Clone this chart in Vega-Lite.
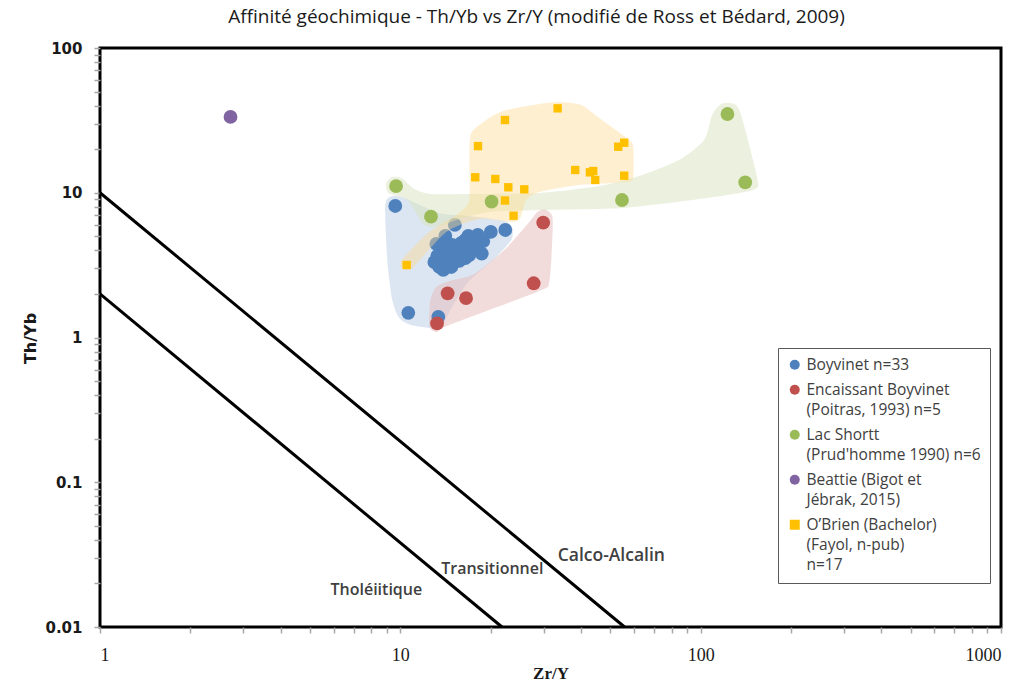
{
  "$schema": "https://vega.github.io/schema/vega-lite/v6.json",
  "width": 901,
  "height": 579,
  "autosize": {"type": "none"},
  "padding": {"left": 100, "top": 48, "right": 12, "bottom": 57},
  "background": "white",
  "title": {
    "text": "Affinité géochimique - Th/Yb vs Zr/Y (modifié de Ross et Bédard, 2009)",
    "font": "Open Sans",
    "fontSize": 19,
    "fontWeight": "normal",
    "color": "#1a1a1a",
    "anchor": "middle",
    "offset": 14,
    "dx": -14
  },
  "config": {
    "view": {"stroke": "black", "strokeWidth": 3},
    "axis": {"grid": false, "domain": false},
    "style": {"guide-label": {"lineHeight": 20}}
  },
  "datasets": {
    "pts": [
      {"s": "Boyvinet", "x": 9.62, "y": 8.10},
      {"s": "Boyvinet", "x": 10.63, "y": 1.48},
      {"s": "Boyvinet", "x": 13.38, "y": 1.39},
      {"s": "Boyvinet", "x": 15.19, "y": 5.99},
      {"s": "Boyvinet", "x": 14.12, "y": 5.03},
      {"s": "Boyvinet", "x": 22.36, "y": 5.53},
      {"s": "Boyvinet", "x": 20.01, "y": 5.36},
      {"s": "Boyvinet", "x": 18.11, "y": 5.11},
      {"s": "Boyvinet", "x": 13.18, "y": 4.43},
      {"s": "Boyvinet", "x": 16.46, "y": 4.72},
      {"s": "Boyvinet", "x": 14.89, "y": 4.36},
      {"s": "Boyvinet", "x": 17.63, "y": 4.36},
      {"s": "Boyvinet", "x": 18.67, "y": 3.80},
      {"s": "Boyvinet", "x": 16.09, "y": 4.02},
      {"s": "Boyvinet", "x": 13.80, "y": 3.90},
      {"s": "Boyvinet", "x": 12.98, "y": 3.32},
      {"s": "Boyvinet", "x": 14.67, "y": 3.54},
      {"s": "Boyvinet", "x": 13.48, "y": 3.07},
      {"s": "Boyvinet", "x": 14.78, "y": 3.07},
      {"s": "Boyvinet", "x": 16.97, "y": 3.71},
      {"s": "Boyvinet", "x": 15.72, "y": 3.38},
      {"s": "Boyvinet", "x": 14.23, "y": 3.27},
      {"s": "Boyvinet", "x": 14.56, "y": 3.96},
      {"s": "Boyvinet", "x": 15.96, "y": 4.50},
      {"s": "Boyvinet", "x": 17.23, "y": 4.02},
      {"s": "Boyvinet", "x": 14.01, "y": 4.43},
      {"s": "Boyvinet", "x": 15.36, "y": 3.78},
      {"s": "Boyvinet", "x": 13.28, "y": 3.66},
      {"s": "Boyvinet", "x": 16.46, "y": 3.54},
      {"s": "Boyvinet", "x": 13.90, "y": 2.93},
      {"s": "Boyvinet", "x": 18.89, "y": 4.64},
      {"s": "Boyvinet", "x": 16.84, "y": 5.03},
      {"s": "Boyvinet", "x": 15.13, "y": 3.32},
      {"s": "Encaissant", "x": 29.9, "y": 6.21},
      {"s": "Encaissant", "x": 27.8, "y": 2.37},
      {"s": "Encaissant", "x": 16.55, "y": 1.87},
      {"s": "Encaissant", "x": 14.37, "y": 2.02},
      {"s": "Encaissant", "x": 13.25, "y": 1.25},
      {"s": "LacShortt", "x": 9.68, "y": 11.13},
      {"s": "LacShortt", "x": 12.65, "y": 6.83},
      {"s": "LacShortt", "x": 20.13, "y": 8.68},
      {"s": "LacShortt", "x": 54.7, "y": 8.91},
      {"s": "LacShortt", "x": 122.8, "y": 34.99},
      {"s": "LacShortt", "x": 140.7, "y": 11.81},
      {"s": "Beattie", "x": 2.72, "y": 33.4},
      {"s": "OBrien", "x": 33.4, "y": 38.3},
      {"s": "OBrien", "x": 22.31, "y": 31.8},
      {"s": "OBrien", "x": 18.14, "y": 21.0},
      {"s": "OBrien", "x": 17.76, "y": 12.79},
      {"s": "OBrien", "x": 20.71, "y": 12.45},
      {"s": "OBrien", "x": 22.88, "y": 10.91},
      {"s": "OBrien", "x": 25.86, "y": 10.56},
      {"s": "OBrien", "x": 22.31, "y": 8.84},
      {"s": "OBrien", "x": 23.82, "y": 6.94},
      {"s": "OBrien", "x": 38.22, "y": 14.36},
      {"s": "OBrien", "x": 42.79, "y": 13.84},
      {"s": "OBrien", "x": 43.88, "y": 14.13},
      {"s": "OBrien", "x": 44.56, "y": 12.25},
      {"s": "OBrien", "x": 53.15, "y": 20.80},
      {"s": "OBrien", "x": 55.65, "y": 22.17},
      {"s": "OBrien", "x": 55.65, "y": 13.12},
      {"s": "OBrien", "x": 10.50, "y": 3.17}
    ],
    "hull": [
      {"g": "blue", "i": 0, "x": 8.91, "y": 8.23},
      {"g": "blue", "i": 1, "x": 9.05, "y": 3.43},
      {"g": "blue", "i": 2, "x": 9.40, "y": 1.816},
      {"g": "blue", "i": 3, "x": 9.92, "y": 1.364},
      {"g": "blue", "i": 4, "x": 10.88, "y": 1.220},
      {"g": "blue", "i": 5, "x": 13.49, "y": 1.163},
      {"g": "blue", "i": 6, "x": 14.56, "y": 1.500},
      {"g": "blue", "i": 7, "x": 16.71, "y": 2.379},
      {"g": "blue", "i": 8, "x": 20.55, "y": 3.49},
      {"g": "blue", "i": 9, "x": 23.41, "y": 4.72},
      {"g": "blue", "i": 10, "x": 23.59, "y": 5.71},
      {"g": "blue", "i": 11, "x": 22.19, "y": 6.38},
      {"g": "blue", "i": 12, "x": 16.97, "y": 6.91},
      {"g": "blue", "i": 13, "x": 13.49, "y": 7.25},
      {"g": "blue", "i": 14, "x": 10.31, "y": 9.20},
      {"g": "blue", "i": 15, "x": 9.40, "y": 9.49},
      {"g": "red", "i": 0, "x": 28.36, "y": 7.25},
      {"g": "red", "i": 1, "x": 30.15, "y": 7.72},
      {"g": "red", "i": 2, "x": 32.05, "y": 6.91},
      {"g": "red", "i": 3, "x": 32.05, "y": 4.72},
      {"g": "red", "i": 4, "x": 31.32, "y": 2.418},
      {"g": "red", "i": 5, "x": 29.01, "y": 2.096},
      {"g": "red", "i": 6, "x": 14.56, "y": 1.220},
      {"g": "red", "i": 7, "x": 13.18, "y": 1.091},
      {"g": "red", "i": 8, "x": 12.49, "y": 1.201},
      {"g": "red", "i": 9, "x": 12.59, "y": 1.816},
      {"g": "red", "i": 10, "x": 13.18, "y": 2.234},
      {"g": "red", "i": 11, "x": 14.56, "y": 2.457},
      {"g": "red", "i": 12, "x": 17.63, "y": 2.746},
      {"g": "red", "i": 13, "x": 22.19, "y": 4.02},
      {"g": "red", "i": 14, "x": 26.88, "y": 6.28},
      {"g": "green", "i": 0, "x": 8.98, "y": 11.68},
      {"g": "green", "i": 1, "x": 9.40, "y": 12.85},
      {"g": "green", "i": 2, "x": 10.08, "y": 12.65},
      {"g": "green", "i": 3, "x": 11.13, "y": 10.61},
      {"g": "green", "i": 4, "x": 12.68, "y": 9.80},
      {"g": "green", "i": 5, "x": 16.97, "y": 9.80},
      {"g": "green", "i": 6, "x": 29.01, "y": 9.96},
      {"g": "green", "i": 7, "x": 45.94, "y": 11.13},
      {"g": "green", "i": 8, "x": 62.43, "y": 13.05},
      {"g": "green", "i": 9, "x": 84.8, "y": 16.84},
      {"g": "green", "i": 10, "x": 102.7, "y": 23.14},
      {"g": "green", "i": 11, "x": 109.2, "y": 34.44},
      {"g": "green", "i": 12, "x": 117.0, "y": 41.04},
      {"g": "green", "i": 13, "x": 129.3, "y": 41.04},
      {"g": "green", "i": 14, "x": 136.4, "y": 34.44},
      {"g": "green", "i": 15, "x": 154.2, "y": 12.65},
      {"g": "green", "i": 16, "x": 149.5, "y": 10.45},
      {"g": "green", "i": 17, "x": 98.9, "y": 9.05},
      {"g": "green", "i": 18, "x": 54.8, "y": 7.85},
      {"g": "green", "i": 19, "x": 29.01, "y": 7.60},
      {"g": "green", "i": 20, "x": 19.78, "y": 7.36},
      {"g": "green", "i": 21, "x": 15.72, "y": 6.59},
      {"g": "green", "i": 22, "x": 13.49, "y": 5.89},
      {"g": "green", "i": 23, "x": 12.02, "y": 5.99},
      {"g": "green", "i": 24, "x": 10.55, "y": 8.91},
      {"g": "green", "i": 25, "x": 9.12, "y": 9.96},
      {"g": "yellow", "i": 0, "x": 17.23, "y": 25.86},
      {"g": "yellow", "i": 1, "x": 19.78, "y": 32.85},
      {"g": "yellow", "i": 2, "x": 22.53, "y": 37.29},
      {"g": "yellow", "i": 3, "x": 29.01, "y": 41.04},
      {"g": "yellow", "i": 4, "x": 33.82, "y": 42.37},
      {"g": "yellow", "i": 5, "x": 40.03, "y": 40.39},
      {"g": "yellow", "i": 6, "x": 45.94, "y": 32.85},
      {"g": "yellow", "i": 7, "x": 57.82, "y": 23.14},
      {"g": "yellow", "i": 8, "x": 59.62, "y": 20.71},
      {"g": "yellow", "i": 9, "x": 59.62, "y": 12.85},
      {"g": "yellow", "i": 10, "x": 56.51, "y": 11.87},
      {"g": "yellow", "i": 11, "x": 39.42, "y": 11.31},
      {"g": "yellow", "i": 12, "x": 29.01, "y": 10.12},
      {"g": "yellow", "i": 13, "x": 26.26, "y": 8.91},
      {"g": "yellow", "i": 14, "x": 25.08, "y": 6.69},
      {"g": "yellow", "i": 15, "x": 23.59, "y": 6.28},
      {"g": "yellow", "i": 16, "x": 18.32, "y": 6.59},
      {"g": "yellow", "i": 17, "x": 14.23, "y": 5.36},
      {"g": "yellow", "i": 18, "x": 11.05, "y": 3.07},
      {"g": "yellow", "i": 19, "x": 10.39, "y": 2.93},
      {"g": "yellow", "i": 20, "x": 10.0, "y": 3.17},
      {"g": "yellow", "i": 21, "x": 10.23, "y": 3.54},
      {"g": "yellow", "i": 22, "x": 12.49, "y": 5.36},
      {"g": "yellow", "i": 23, "x": 15.72, "y": 7.25},
      {"g": "yellow", "i": 24, "x": 16.97, "y": 8.91},
      {"g": "yellow", "i": 25, "x": 16.97, "y": 16.84}
    ],
    "bounds": [
      {"b": "calco", "x": 1, "y": 10},
      {"b": "calco", "x": 55.8, "y": 0.01},
      {"b": "thol", "x": 1, "y": 2},
      {"b": "thol", "x": 21.8, "y": 0.01}
    ],
    "labels": [
      {"t": "Tholéiitique", "x": 8.32, "y": 0.0180},
      {"t": "Transitionnel", "x": 20.24, "y": 0.02516},
      {"t": "Calco-Alcalin", "x": 50.4, "y": 0.03094}
    ]
  },
  "encoding": {
    "x": {
      "field": "x",
      "type": "quantitative",
      "scale": {"type": "log", "domain": [1, 1000], "nice": false},
      "axis": {
        "title": "Zr/Y",
        "values": [1, 2, 3, 4, 5, 6, 7, 8, 9, 10, 20, 30, 40, 50, 60, 70, 80, 90, 100, 200, 300, 400, 500, 600, 700, 800, 900, 1000],
        "format": "~g",
        "labelExpr": "(datum.value == 1 || datum.value == 10 || datum.value == 100 || datum.value == 1000) ? datum.label : ''",
        "labelOverlap": false,
        "labelFont": "Liberation Sans Narrow",
        "labelFontSize": 18,
        "labelColor": "#1a1a1a",
        "labelPadding": 13,
        "tickColor": "#a6a6a6",
        "tickSize": 6,
        "tickWidth": 1.5,
        "titleFont": "Liberation Sans Narrow",
        "titleFontSize": 17,
        "titleFontWeight": "bold",
        "titleColor": "#1a1a1a",
        "titleBaseline": "middle",
        "titleY": 46
      }
    },
    "y": {
      "field": "y",
      "type": "quantitative",
      "scale": {"type": "log", "domain": [0.01, 100], "nice": false},
      "axis": {
        "title": "Th/Yb",
        "values": [0.01, 0.02, 0.03, 0.04, 0.05, 0.06, 0.07, 0.08, 0.09, 0.1, 0.2, 0.3, 0.4, 0.5, 0.6, 0.7, 0.8, 0.9, 1, 2, 3, 4, 5, 6, 7, 8, 9, 10, 20, 30, 40, 50, 60, 70, 80, 90, 100],
        "format": "~g",
        "labelExpr": "(datum.value == 0.01 || datum.value == 0.1 || datum.value == 1 || datum.value == 10 || datum.value == 100) ? datum.label : ''",
        "labelOverlap": false,
        "labelFont": "DejaVu Sans",
        "labelFontWeight": "bold",
        "labelFontSize": 15,
        "labelColor": "#1a1a1a",
        "labelPadding": 12,
        "tickColor": "#a6a6a6",
        "tickSize": 6,
        "tickWidth": 1.5,
        "titleFont": "DejaVu Sans",
        "titleFontSize": 16,
        "titleFontWeight": "bold",
        "titleColor": "#1a1a1a",
        "titleAngle": -90,
        "titleBaseline": "middle",
        "titleAlign": "center",
        "titleX": -70,
        "titleY": 290
      }
    }
  },
  "layer": [
    {
      "data": {"name": "hull"},
      "transform": [{"filter": "datum.g == 'blue'"}],
      "mark": {"type": "line", "interpolate": "cardinal-closed", "tension": 0.3, "fill": "#b9cde5", "fillOpacity": 0.5, "strokeOpacity": 0},
      "encoding": {"order": {"field": "i", "type": "quantitative"}}
    },
    {
      "data": {"name": "hull"},
      "transform": [{"filter": "datum.g == 'red'"}],
      "mark": {"type": "line", "interpolate": "cardinal-closed", "tension": 0.3, "fill": "#e6b9b8", "fillOpacity": 0.5, "strokeOpacity": 0},
      "encoding": {"order": {"field": "i", "type": "quantitative"}}
    },
    {
      "data": {"name": "pts"},
      "transform": [{"filter": "datum.s == 'Boyvinet' || datum.s == 'Encaissant'"}],
      "mark": {"type": "point", "filled": true, "size": 190, "opacity": 1},
      "encoding": {
        "color": {
          "field": "s", "type": "nominal",
          "scale": {"domain": ["Boyvinet", "Encaissant", "LacShortt", "Beattie", "OBrien"], "range": ["#4f81bd", "#c0504d", "#9bbb59", "#8064a2", "#ffc000"]},
          "legend": {
            "title": null, "orient": "none", "legendX": 678, "legendY": 300,
            "labelExpr": "datum.value == 'Boyvinet' ? 'Boyvinet n=33' : datum.value == 'Encaissant' ? ['Encaissant Boyvinet', '(Poitras, 1993) n=5'] : datum.value == 'LacShortt' ? ['Lac Shortt', \"(Prud'homme 1990) n=6\"] : datum.value == 'Beattie' ? ['Beattie (Bigot et', 'Jébrak, 2015)'] : ['O’Brien (Bachelor)', '(Fayol, n-pub)', 'n=17']",
            "labelFont": "Open Sans", "labelFontSize": 15.5, "labelColor": "#404040", "labelLimit": 400,
            "symbolSize": 100, "symbolStrokeWidth": 0, "padding": 9, "rowPadding": 8,
            "strokeColor": "#595959", "fillColor": "white", "labelBaseline": "middle"
          }
        },
        "shape": {
          "field": "s", "type": "nominal",
          "scale": {"domain": ["Boyvinet", "Encaissant", "LacShortt", "Beattie", "OBrien"], "range": ["circle", "circle", "circle", "circle", "square"]},
          "legend": {
            "title": null, "orient": "none", "legendX": 678, "legendY": 300,
            "labelExpr": "datum.value == 'Boyvinet' ? 'Boyvinet n=33' : datum.value == 'Encaissant' ? ['Encaissant Boyvinet', '(Poitras, 1993) n=5'] : datum.value == 'LacShortt' ? ['Lac Shortt', \"(Prud'homme 1990) n=6\"] : datum.value == 'Beattie' ? ['Beattie (Bigot et', 'Jébrak, 2015)'] : ['O’Brien (Bachelor)', '(Fayol, n-pub)', 'n=17']",
            "labelFont": "Open Sans", "labelFontSize": 15.5, "labelColor": "#404040", "labelLimit": 400,
            "symbolSize": 100, "symbolStrokeWidth": 0, "padding": 9, "rowPadding": 8,
            "strokeColor": "#595959", "fillColor": "white", "labelBaseline": "middle"
          }
        }
      }
    },
    {
      "data": {"name": "hull"},
      "transform": [{"filter": "datum.g == 'green'"}],
      "mark": {"type": "line", "interpolate": "cardinal-closed", "tension": 0.3, "fill": "#d7e4bd", "fillOpacity": 0.5, "strokeOpacity": 0},
      "encoding": {"order": {"field": "i", "type": "quantitative"}}
    },
    {
      "data": {"name": "hull"},
      "transform": [{"filter": "datum.g == 'yellow'"}],
      "mark": {"type": "line", "interpolate": "cardinal-closed", "tension": 0.3, "fill": "#fcd890", "fillOpacity": 0.42, "strokeOpacity": 0},
      "encoding": {"order": {"field": "i", "type": "quantitative"}}
    },
    {
      "data": {"name": "bounds"},
      "mark": {"type": "line", "color": "black", "strokeWidth": 3},
      "encoding": {"detail": {"field": "b", "type": "nominal"}}
    },
    {
      "data": {"name": "labels"},
      "transform": [{"filter": "datum.t != 'Calco-Alcalin'"}],
      "mark": {"type": "text", "font": "Open Sans", "fontSize": 16, "fontWeight": 600, "color": "#404040"},
      "encoding": {"text": {"field": "t", "type": "nominal"}}
    },
    {
      "data": {"name": "labels"},
      "transform": [{"filter": "datum.t == 'Calco-Alcalin'"}],
      "mark": {"type": "text", "font": "Open Sans", "fontSize": 17.5, "fontWeight": 600, "color": "#404040"},
      "encoding": {"text": {"field": "t", "type": "nominal"}}
    },
    {
      "data": {"name": "pts"},
      "transform": [{"filter": "datum.s == 'LacShortt' || datum.s == 'Beattie'"}],
      "mark": {"type": "point", "filled": true, "size": 190, "opacity": 1},
      "encoding": {
        "color": {
          "field": "s", "type": "nominal",
          "scale": {"domain": ["Boyvinet", "Encaissant", "LacShortt", "Beattie", "OBrien"], "range": ["#4f81bd", "#c0504d", "#9bbb59", "#8064a2", "#ffc000"]},
          "legend": {
            "title": null, "orient": "none", "legendX": 678, "legendY": 300,
            "labelExpr": "datum.value == 'Boyvinet' ? 'Boyvinet n=33' : datum.value == 'Encaissant' ? ['Encaissant Boyvinet', '(Poitras, 1993) n=5'] : datum.value == 'LacShortt' ? ['Lac Shortt', \"(Prud'homme 1990) n=6\"] : datum.value == 'Beattie' ? ['Beattie (Bigot et', 'Jébrak, 2015)'] : ['O’Brien (Bachelor)', '(Fayol, n-pub)', 'n=17']",
            "labelFont": "Open Sans", "labelFontSize": 15.5, "labelColor": "#404040", "labelLimit": 400,
            "symbolSize": 100, "symbolStrokeWidth": 0, "padding": 9, "rowPadding": 8,
            "strokeColor": "#595959", "fillColor": "white", "labelBaseline": "middle"
          }
        },
        "shape": {
          "field": "s", "type": "nominal",
          "scale": {"domain": ["Boyvinet", "Encaissant", "LacShortt", "Beattie", "OBrien"], "range": ["circle", "circle", "circle", "circle", "square"]},
          "legend": {
            "title": null, "orient": "none", "legendX": 678, "legendY": 300,
            "labelExpr": "datum.value == 'Boyvinet' ? 'Boyvinet n=33' : datum.value == 'Encaissant' ? ['Encaissant Boyvinet', '(Poitras, 1993) n=5'] : datum.value == 'LacShortt' ? ['Lac Shortt', \"(Prud'homme 1990) n=6\"] : datum.value == 'Beattie' ? ['Beattie (Bigot et', 'Jébrak, 2015)'] : ['O’Brien (Bachelor)', '(Fayol, n-pub)', 'n=17']",
            "labelFont": "Open Sans", "labelFontSize": 15.5, "labelColor": "#404040", "labelLimit": 400,
            "symbolSize": 100, "symbolStrokeWidth": 0, "padding": 9, "rowPadding": 8,
            "strokeColor": "#595959", "fillColor": "white", "labelBaseline": "middle"
          }
        }
      }
    },
    {
      "data": {"name": "pts"},
      "transform": [{"filter": "datum.s == 'OBrien'"}],
      "mark": {"type": "point", "filled": true, "size": 70, "opacity": 1},
      "encoding": {
        "color": {
          "field": "s", "type": "nominal",
          "scale": {"domain": ["Boyvinet", "Encaissant", "LacShortt", "Beattie", "OBrien"], "range": ["#4f81bd", "#c0504d", "#9bbb59", "#8064a2", "#ffc000"]},
          "legend": {
            "title": null, "orient": "none", "legendX": 678, "legendY": 300,
            "labelExpr": "datum.value == 'Boyvinet' ? 'Boyvinet n=33' : datum.value == 'Encaissant' ? ['Encaissant Boyvinet', '(Poitras, 1993) n=5'] : datum.value == 'LacShortt' ? ['Lac Shortt', \"(Prud'homme 1990) n=6\"] : datum.value == 'Beattie' ? ['Beattie (Bigot et', 'Jébrak, 2015)'] : ['O’Brien (Bachelor)', '(Fayol, n-pub)', 'n=17']",
            "labelFont": "Open Sans", "labelFontSize": 15.5, "labelColor": "#404040", "labelLimit": 400,
            "symbolSize": 100, "symbolStrokeWidth": 0, "padding": 9, "rowPadding": 8,
            "strokeColor": "#595959", "fillColor": "white", "labelBaseline": "middle"
          }
        },
        "shape": {
          "field": "s", "type": "nominal",
          "scale": {"domain": ["Boyvinet", "Encaissant", "LacShortt", "Beattie", "OBrien"], "range": ["circle", "circle", "circle", "circle", "square"]},
          "legend": {
            "title": null, "orient": "none", "legendX": 678, "legendY": 300,
            "labelExpr": "datum.value == 'Boyvinet' ? 'Boyvinet n=33' : datum.value == 'Encaissant' ? ['Encaissant Boyvinet', '(Poitras, 1993) n=5'] : datum.value == 'LacShortt' ? ['Lac Shortt', \"(Prud'homme 1990) n=6\"] : datum.value == 'Beattie' ? ['Beattie (Bigot et', 'Jébrak, 2015)'] : ['O’Brien (Bachelor)', '(Fayol, n-pub)', 'n=17']",
            "labelFont": "Open Sans", "labelFontSize": 15.5, "labelColor": "#404040", "labelLimit": 400,
            "symbolSize": 100, "symbolStrokeWidth": 0, "padding": 9, "rowPadding": 8,
            "strokeColor": "#595959", "fillColor": "white", "labelBaseline": "middle"
          }
        }
      }
    }
  ]
}
